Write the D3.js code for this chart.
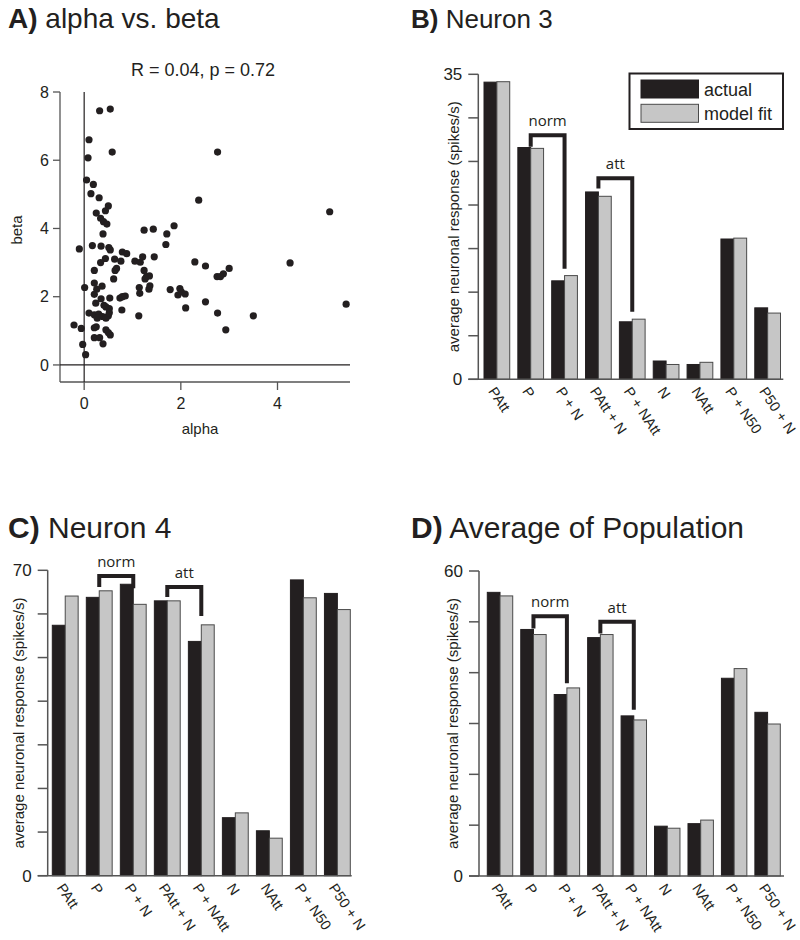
<!DOCTYPE html>
<html><head><meta charset="utf-8">
<script src="https://cdn.jsdelivr.net/npm/d3@7"></script>
<style>body{margin:0;background:#fff}svg{display:block}</style>
</head><body>
<script>
// ---------- DATA ----------
const scatterAlpha = [0.32,0.54,0.10,0.08,0.58,2.76,0.05,0.19,0.14,0.31,0.50,0.44,0.25,0.34,0.40,0.47,2.37,5.08,0.39,1.24,1.43,1.86,1.71,-0.10,0.17,0.35,0.51,0.54,1.69,0.79,0.88,0.63,0.44,0.34,0.76,1.05,1.16,1.21,1.45,2.29,2.51,4.26,3.00,2.88,2.75,2.82,0.21,0.67,0.64,1.24,1.29,1.35,1.26,0.61,0.01,0.21,0.37,0.26,1.14,1.34,1.36,1.78,1.98,1.94,2.01,2.09,1.15,0.35,0.53,0.74,0.79,0.85,0.24,0.41,0.45,0.52,0.78,2.10,2.51,5.42,0.10,0.21,0.30,0.27,0.38,0.50,1.13,2.76,3.50,-0.21,-0.06,0.25,0.45,2.93,-0.03,0.03,0.21,0.32,0.39,0.50,0.54,0.21,0.45,0.52,0.21];
const scatterBeta  = [7.45,7.50,6.60,6.07,6.24,6.24,5.42,5.29,5.02,4.90,4.66,4.52,4.45,4.30,4.20,4.13,4.83,4.49,3.84,3.95,3.98,4.08,3.84,3.40,3.50,3.48,3.44,3.37,3.53,3.31,3.26,3.10,3.12,3.00,3.04,3.04,3.01,3.17,3.17,3.02,2.90,2.99,2.83,2.67,2.59,2.59,2.77,2.83,2.77,2.77,2.59,2.61,2.52,2.52,2.27,2.40,2.31,2.22,2.27,2.22,2.32,2.21,2.24,2.05,2.14,2.08,2.10,1.94,1.96,1.96,2.00,2.02,1.81,1.75,1.70,1.65,1.61,1.67,1.85,1.78,1.52,1.47,1.49,1.37,1.42,1.44,1.44,1.52,1.44,1.17,1.07,1.12,1.03,1.03,0.60,0.30,0.80,0.80,0.62,0.95,0.88,1.09,1.37,1.53,2.07];
const scatterXTicks = [0,2,4];
const scatterYTicks = [0,2,4,6,8];
const statText = "R = 0.04, p = 0.72";

const categories = ["PAtt","P","P + N","PAtt + N","P + NAtt","N","NAtt","P + N50","P50 + N"];
const seriesNames = ["actual","model fit"];
const n3Actual = [34.1,26.6,11.3,21.5,6.6,2.1,1.7,16.1,8.2];
const n3Model  = [34.15,26.5,11.9,21.0,6.9,1.7,1.95,16.2,7.6];
const n4Actual = [57.4,63.8,66.8,63.0,53.7,13.3,10.3,67.8,64.7];
const n4Model  = [64.1,65.3,62.2,63.0,57.5,14.4,8.6,63.7,61.0];
const popActual = [55.8,48.5,35.7,46.9,31.5,9.8,10.3,38.9,32.2];
const popModel  = [55.1,47.5,37.0,47.5,30.7,9.4,11.0,40.8,29.9];
// bracket annotations: [label, fromCategory, toCategory, topValue, leftEndValue, rightEndValue]
const n3Brackets = [["norm",1,2,28.0,26.7,12.7],["att",3,4,23.06,21.9,7.76]];
const n4Brackets = [["norm",1,2,68.7,66.2,65.9],["att",3,4,66.2,63.9,59.5]];
const popBrackets = [["norm",1,2,51.1,48.7,37.9],["att",3,4,50.0,47.7,32.7]];

// ---------- DRAW ----------
const INK = "#231f20", GRAY = "#c6c6c6", AXIS = "#555";
const FONT = "'Liberation Sans', Arial, Helvetica, sans-serif";
const svg = d3.select("body").append("svg").attr("width",800).attr("height",940)
  .style("font-family",FONT);
svg.append("rect").attr("width",800).attr("height",940).attr("fill","#fff");

function title(x,y,size,letter,txt){
  const t = svg.append("text").attr("x",x).attr("y",y).attr("font-size",size).attr("fill",INK);
  t.append("tspan").attr("font-weight","bold").text(letter);
  t.append("tspan").text(" "+txt);
}
title(8,28,28,"A)","alpha vs. beta");
title(411,28,26,"B)","Neuron 3");
title(8,538,30,"C)","Neuron 4");
title(411,538,30,"D)","Average of Population");

// ---- Panel A scatter ----
(function(){
  const x = d3.scaleLinear().domain([-0.5,5.5]).range([60,350]);
  const y = d3.scaleLinear().domain([-0.5,8]).range([382,92]);
  const g = svg.append("g");
  g.append("line").attr("x1",60).attr("x2",60).attr("y1",y(8)).attr("y2",y(-0.5)).attr("stroke",AXIS).attr("stroke-width",1.3);
  g.append("line").attr("x1",60).attr("x2",350).attr("y1",y(-0.5)).attr("y2",y(-0.5)).attr("stroke",AXIS).attr("stroke-width",1.3);
  g.selectAll(".yt").data(scatterYTicks).enter().append("line").attr("x1",53).attr("x2",60)
    .attr("y1",d=>y(d)).attr("y2",d=>y(d)).attr("stroke",AXIS).attr("stroke-width",1.3);
  g.selectAll(".ytl").data(scatterYTicks).enter().append("text").attr("x",49).attr("y",d=>y(d)).attr("dy","0.36em")
    .attr("text-anchor","end").attr("font-size",16).attr("fill",INK).text(d=>d);
  g.selectAll(".xt").data(scatterXTicks).enter().append("line").attr("y1",y(-0.5)).attr("y2",y(-0.5)+8)
    .attr("x1",d=>x(d)).attr("x2",d=>x(d)).attr("stroke",AXIS).attr("stroke-width",1.3);
  g.selectAll(".xtl").data(scatterXTicks).enter().append("text").attr("y",409).attr("x",d=>x(d))
    .attr("text-anchor","middle").attr("font-size",16).attr("fill",INK).text(d=>d);
  // zero lines
  g.append("line").attr("x1",x(-0.5)).attr("x2",x(5.5)).attr("y1",y(0)).attr("y2",y(0)).attr("stroke",INK).attr("stroke-width",1.2);
  g.append("line").attr("x1",x(0)).attr("x2",x(0)).attr("y1",y(8)).attr("y2",y(-0.5)).attr("stroke",INK).attr("stroke-width",1.2);
  g.append("text").attr("x",203).attr("y",76).attr("text-anchor","middle").attr("font-size",18).attr("fill",INK).text(statText);
  g.append("text").attr("x",200).attr("y",434).attr("text-anchor","middle").attr("font-size",15).attr("fill",INK).text("alpha");
  g.append("text").attr("transform","translate(22,230) rotate(-90)").attr("text-anchor","middle").attr("font-size",15).attr("fill",INK).text("beta");
  g.selectAll("circle").data(scatterAlpha.map((a,i)=>[a,scatterBeta[i]])).enter().append("circle")
    .attr("cx",d=>x(d[0])).attr("cy",d=>y(d[1])).attr("r",3.6).attr("fill",INK);
})();

// ---- Bar panels ----
function barPanel(cfg){
  const g = svg.append("g");
  const y = d3.scaleLinear().domain([0,cfg.ymax]).range([cfg.yBottom,cfg.yTop]);
  const x = d3.scaleBand().domain(categories).range([cfg.bandL,cfg.bandR]).paddingInner(0.24).paddingOuter(0);
  const xs = d3.scaleBand().domain(seriesNames).range([0,x.bandwidth()]);
  const rows = categories.map((c,i)=>({c, v:[cfg.actual[i], cfg.model[i]]}));
  const grp = g.selectAll(".grp").data(rows).enter().append("g").attr("transform",d=>`translate(${x(d.c)},0)`);
  grp.selectAll("rect").data(d=>d.v.map((v,k)=>({s:seriesNames[k],v}))).enter().append("rect")
    .attr("x",d=>xs(d.s)).attr("width",xs.bandwidth()).attr("y",d=>y(d.v)).attr("height",d=>y(0)-y(d.v))
    .attr("fill",d=>d.s==="actual"?INK:GRAY).attr("stroke",d=>d.s==="actual"?INK:"#4a4a4a").attr("stroke-width",1);
  // axes
  const ticks = d3.range(0,cfg.ymax+0.001,cfg.step);
  g.append("line").attr("x1",cfg.axisX).attr("x2",cfg.axisX).attr("y1",y(cfg.ymax)).attr("y2",y(0)).attr("stroke",AXIS).attr("stroke-width",1.5);
  g.append("line").attr("x1",cfg.axisX-10).attr("x2",cfg.axisEnd).attr("y1",y(0)).attr("y2",y(0)).attr("stroke",AXIS).attr("stroke-width",1.5);
  g.selectAll(".tk").data(ticks).enter().append("line").attr("x1",cfg.axisX-10).attr("x2",cfg.axisX)
    .attr("y1",d=>y(d)).attr("y2",d=>y(d)).attr("stroke",AXIS).attr("stroke-width",1.5);
  g.selectAll(".tl").data([0,cfg.ymax]).enter().append("text").attr("x",cfg.axisX-16).attr("y",d=>y(d)).attr("dy","0.36em")
    .attr("text-anchor","end").attr("font-size",17).attr("fill",INK).text(d=>d);
  g.append("text").attr("transform",`translate(${cfg.labelX},${(y(0)+y(cfg.ymax))/2}) rotate(-90)`)
    .attr("text-anchor","middle").attr("dominant-baseline","central").attr("font-size",15).attr("fill",INK)
    .text("average neuronal response (spikes/s)");
  g.selectAll(".xl").data(categories).enter().append("text")
    .attr("transform",d=>`translate(${x(d)+x.bandwidth()/2-9},${y(0)+12}) rotate(56)`)
    .attr("font-size",14.5).attr("fill",INK).text(d=>d);
  // brackets
  cfg.brackets.forEach(b=>{
    const xl = x(categories[b[1]])+x.bandwidth()/2, xr = x(categories[b[2]])+x.bandwidth()/2;
    g.append("path").attr("d",`M${xl},${y(b[4])}V${y(b[3])}H${xr}V${y(b[5])}`)
      .attr("fill","none").attr("stroke",INK).attr("stroke-width",4).attr("stroke-linejoin","miter");
    g.append("text").attr("x",(xl+xr)/2).attr("y",y(b[3])-9).attr("text-anchor","middle")
      .attr("font-family","'Open Sans', 'Liberation Sans', sans-serif").attr("font-size",15).attr("fill",INK).text(b[0]);
  });
  return g;
}
barPanel({actual:n3Actual, model:n3Model, brackets:n3Brackets, ymax:35, step:5, yTop:74.3, yBottom:379.3,
  axisX:478.3, axisEnd:783.3, bandL:484, bandR:780.5, labelX:453});
barPanel({actual:n4Actual, model:n4Model, brackets:n4Brackets, ymax:70, step:10, yTop:570.3, yBottom:875.7,
  axisX:47.7, axisEnd:351.7, bandL:52.3, bandR:350.3, labelX:18});
barPanel({actual:popActual, model:popModel, brackets:popBrackets, ymax:60, step:10, yTop:571, yBottom:876,
  axisX:479, axisEnd:784, bandL:487.3, bandR:780.3, labelX:452});

// legend (panel B)
(function(){
  const g = svg.append("g");
  g.append("rect").attr("x",629.5).attr("y",73.5).attr("width",153.5).attr("height",55.5).attr("fill","#fff").attr("stroke",INK).attr("stroke-width",2);
  seriesNames.forEach((s,i)=>{
    g.append("rect").attr("x",641).attr("y",80+i*24.3).attr("width",57.5).attr("height",18)
      .attr("fill",i===0?INK:GRAY).attr("stroke",i===0?INK:"#4a4a4a").attr("stroke-width",1);
    g.append("text").attr("x",704).attr("y",95.5+i*24.3).attr("font-size",18).attr("fill",INK).text(s);
  });
})();
</script>
</body></html>
